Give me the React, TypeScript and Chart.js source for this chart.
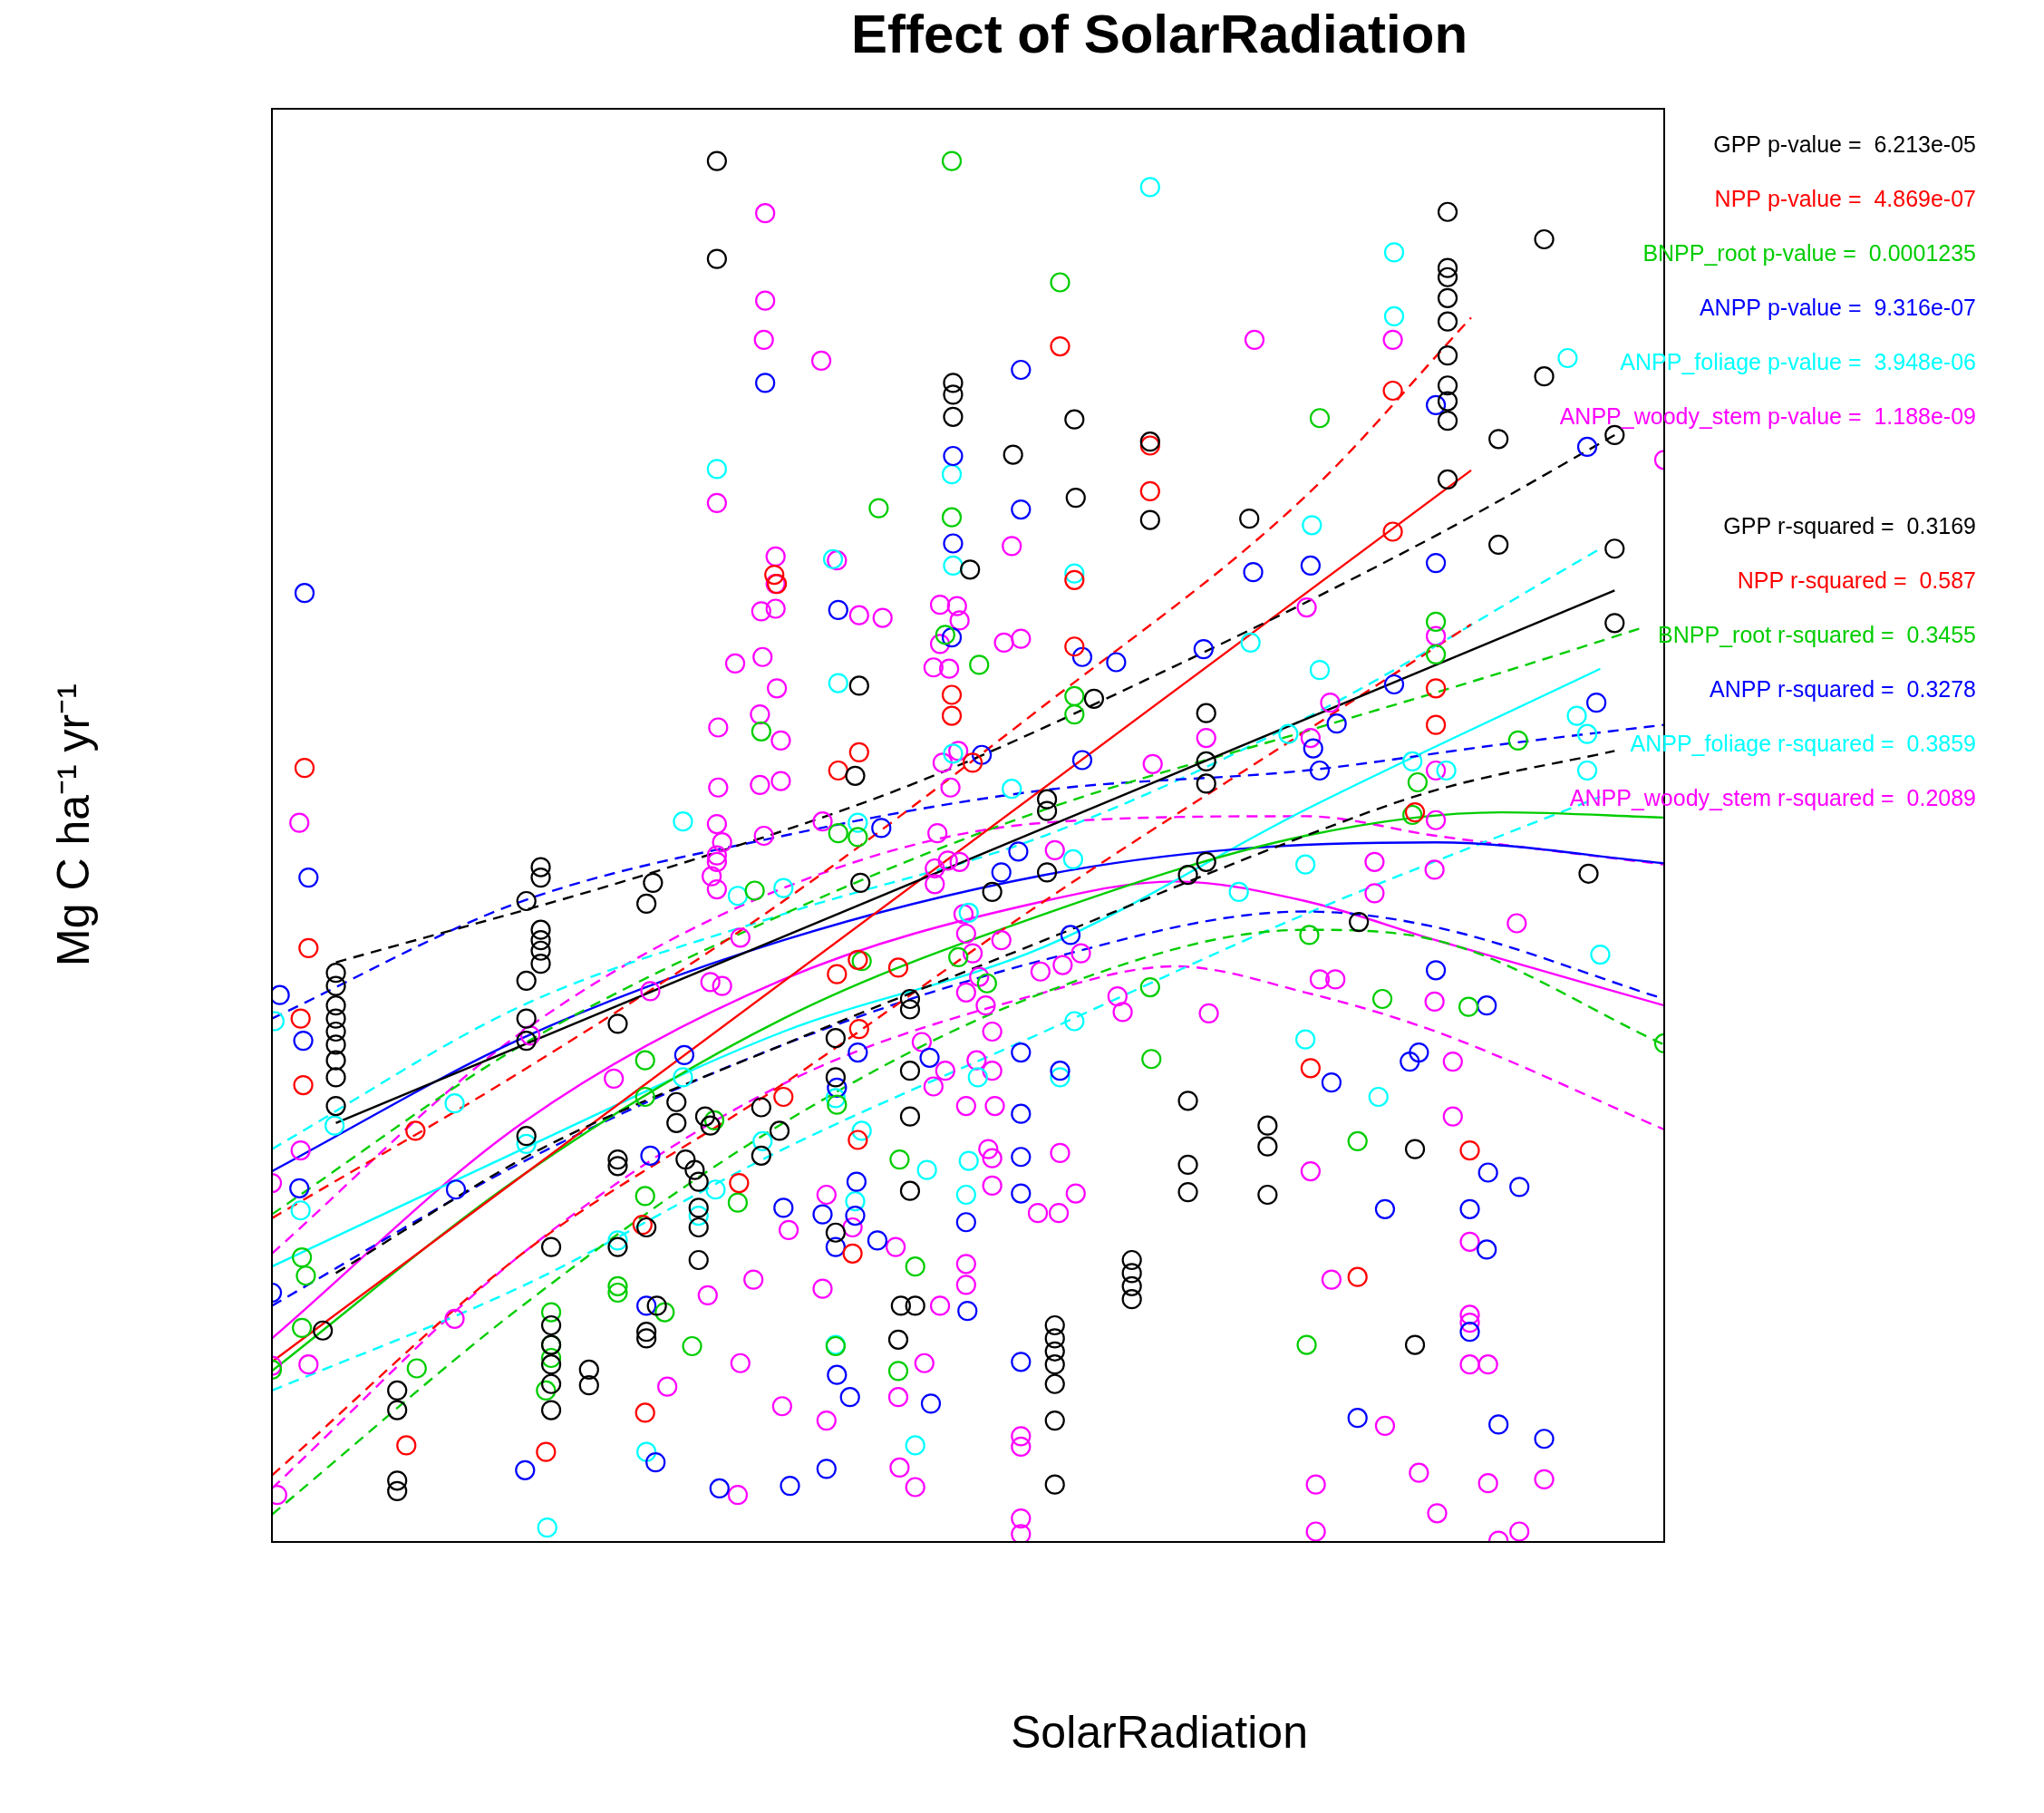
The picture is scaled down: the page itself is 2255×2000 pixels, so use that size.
import { useEffect, useRef } from "react";
import { Chart, registerables } from "chart.js";

Chart.register(...registerables);

// values in the plot's own (unlabelled) units; y axis runs top-down
type P = [number, number];

const gppPts: P[] = [[549,123],[549,198],[730,293],[730,302],[730,319],[776,348],[823,321],[824,381],[881,338],[881,398],[743,436],[957,397],[1109,162],[1109,205],[1109,212],[1109,228],[1109,246],[1109,272],[1109,295],[1109,307],[1109,322],[1109,367],[1183,183],[1183,288],[1148,336],[1148,417],[1237,333],[1237,420],[1237,477],[658,525],[838,535],[924,546],[924,583],[924,600],[924,660],[910,670],[1217,669],[1041,706],[655,594],[659,676],[802,612],[802,621],[802,668],[760,683],[257,745],[257,755],[257,770],[257,780],[257,790],[257,800],[257,812],[257,825],[257,847],[247,1019],[414,664],[414,672],[414,712],[414,720],[414,728],[414,738],[403,690],[403,751],[403,780],[403,797],[403,870],[422,955],[473,784],[495,692],[500,676],[518,844],[518,860],[525,888],[532,896],[535,905],[535,925],[535,940],[535,965],[540,855],[544,862],[473,888],[473,893],[473,955],[495,940],[495,1020],[495,1025],[503,1000],[583,848],[583,885],[597,866],[640,795],[640,825],[697,765],[697,773],[697,820],[697,855],[697,912],[701,1000],[690,1000],[688,1026],[640,944],[808,1015],[808,1025],[808,1035],[808,1045],[808,1060],[808,1088],[808,1137],[867,965],[867,975],[867,985],[867,995],[910,843],[910,892],[910,913],[971,862],[971,878],[971,915],[1084,880],[1084,1030],[304,1065],[304,1080],[304,1134],[304,1142],[451,1049],[451,1061],[422,1015],[422,1030],[422,1045],[422,1060],[422,1080]];
const nppPts: P[] = [[812,265],[881,341],[881,376],[823,444],[823,495],[658,576],[642,590],[1067,299],[1067,407],[1100,527],[1100,555],[1084,622],[233,588],[236,726],[230,780],[232,831],[318,866],[641,746],[657,735],[688,741],[729,532],[729,548],[745,584],[600,840],[566,906],[657,873],[653,960],[658,788],[492,938],[494,1082],[311,1107],[418,1112],[1004,818],[1040,978],[1126,881],[593,440],[595,447]];
const bnppPts: P[] = [[729,123],[812,216],[1011,320],[673,389],[729,396],[750,509],[823,533],[823,547],[882,811],[1100,476],[1100,501],[1086,599],[1082,624],[1163,567],[1125,771],[1275,799],[231,963],[234,977],[231,1017],[208,1049],[319,1048],[422,1005],[422,1030],[422,1040],[418,1065],[494,812],[494,840],[494,916],[473,985],[473,990],[509,1005],[530,1031],[547,858],[578,682],[583,560],[642,638],[657,641],[641,846],[689,888],[640,1031],[688,1050],[701,970],[565,921],[1001,1030],[1040,874],[1059,765],[1003,716],[724,486],[734,733],[756,753],[660,736],[881,756]];
const anppPts: P[] = [[586,293],[782,283],[782,390],[730,349],[730,416],[729,488],[642,467],[829,503],[855,507],[922,497],[960,438],[1004,433],[1100,310],[1100,431],[1216,342],[1068,524],[1024,554],[1011,590],[1006,573],[1139,770],[1100,743],[1080,813],[1087,806],[1020,829],[1061,926],[1140,898],[1164,909],[1126,926],[1139,957],[1126,1020],[1148,1091],[1183,1102],[1040,1086],[233,454],[236,672],[232,797],[214,762],[229,910],[349,911],[402,1126],[495,1000],[498,885],[524,808],[640,955],[630,930],[641,1053],[651,1070],[633,1125],[605,1138],[551,1140],[600,925],[641,833],[657,806],[675,634],[752,578],[712,810],[713,1075],[767,668],[780,652],[820,716],[829,582],[782,806],[812,820],[782,853],[782,886],[782,914],[740,936],[741,1004],[782,1043],[656,905],[655,931],[672,950],[502,1120],[208,990],[1223,538]];
const foliagePts: P[] = [[881,143],[1068,193],[1068,242],[1201,274],[549,359],[729,363],[730,433],[638,428],[642,523],[823,439],[958,492],[1005,402],[1011,513],[730,577],[775,604],[523,629],[210,782],[256,862],[230,927],[348,845],[403,876],[419,1170],[495,1112],[473,950],[523,825],[535,931],[548,911],[584,874],[565,686],[600,680],[657,630],[640,841],[660,866],[655,920],[710,896],[749,825],[742,889],[740,915],[812,825],[823,782],[822,658],[742,699],[1000,662],[1000,796],[1056,840],[1082,583],[1108,590],[1208,548],[1216,562],[1216,590],[1226,731],[949,683],[987,562],[701,1107],[640,1030]];
const woodyPts: P[] = [[586,163],[586,230],[585,260],[629,276],[961,260],[1067,260],[1275,352],[549,385],[594,426],[594,447],[594,466],[641,429],[583,468],[584,503],[563,508],[595,527],[582,547],[550,557],[598,567],[582,601],[598,598],[550,603],[585,640],[549,631],[549,655],[549,660],[549,681],[545,671],[630,629],[658,471],[676,473],[720,463],[720,493],[733,464],[735,475],[727,512],[769,492],[782,489],[775,418],[715,511],[734,575],[722,584],[718,638],[728,603],[726,659],[735,660],[738,700],[740,715],[745,730],[750,748],[740,760],[755,770],[760,790],[748,812],[760,820],[762,847],[757,880],[760,887],[760,908],[812,883],[795,929],[811,929],[824,914],[716,665],[716,677],[767,720],[797,744],[808,651],[814,739],[828,730],[856,763],[860,775],[883,585],[924,565],[926,776],[1001,465],[1004,565],[1019,538],[1011,750],[1023,750],[1053,660],[1053,684],[1100,487],[1100,590],[1100,628],[1099,666],[1162,707],[1099,767],[1113,813],[1113,855],[1126,951],[1126,1007],[1126,1013],[1126,1045],[1140,1045],[1087,1128],[1101,1159],[1140,1136],[1183,1133],[1164,1173],[1148,1180],[1061,1092],[1008,1137],[1008,1173],[1020,980],[1004,897],[208,906],[212,1145],[229,630],[230,881],[208,1046],[236,1045],[348,1010],[406,793],[470,826],[498,759],[511,1062],[542,992],[567,1044],[577,980],[599,1077],[604,942],[565,1145],[630,987],[633,915],[653,940],[686,955],[688,1070],[689,1124],[701,1139],[740,968],[740,984],[782,1163],[782,1175],[782,1100],[782,1108],[706,798],[715,832],[724,820],[740,847],[708,1044],[720,1000],[633,1088],[544,752],[553,755],[567,718],[553,645]];

// fitted curves: [fit, upper, lower]
const gppFit: P[][] = [
  [[257,860],[1237,452]],
  [[257,737],[500,668],[700,600],[900,510],[1100,410],[1237,333]],
  [[257,975],[414,880],[600,800],[800,720],[1000,640],[1100,605],[1237,575]],
];
const nppFit: P[][] = [
  [[208,1043],[1127,360]],
  [[208,933],[400,820],[600,690],[800,540],[1000,380],[1127,243]],
  [[208,1130],[400,960],[600,830],[800,690],[1000,560],[1127,478]],
];
const bnppFit: P[][] = [
  [[208,1050],[400,900],[600,780],[800,700],[1000,640],[1150,622],[1275,626]],
  [[208,930],[400,800],[600,700],[800,620],[1000,560],[1150,515],[1260,480]],
  [[208,1160],[400,1000],[600,860],[800,760],[1000,712],[1100,720],[1275,800]],
];
const anppFit: P[][] = [
  [[208,897],[400,795],[600,720],[800,670],[950,650],[1100,645],[1275,661]],
  [[208,780],[400,690],[600,640],[800,605],[1000,590],[1150,570],[1275,555]],
  [[208,1000],[400,890],[600,800],[800,735],[1000,698],[1100,710],[1275,765]],
];
const foliageFit: P[][] = [
  [[208,970],[400,880],[600,790],[800,725],[1000,620],[1226,512]],
  [[208,880],[400,770],[600,700],[800,640],[1000,550],[1226,420]],
  [[208,1065],[400,985],[600,880],[800,790],[1000,700],[1226,610]],
];
const woodyFit: P[][] = [
  [[208,1025],[400,860],[600,750],[800,690],[900,675],[1000,690],[1100,720],[1275,770]],
  [[208,960],[400,790],[600,680],[800,630],[1000,625],[1100,640],[1275,662]],
  [[208,1140],[400,960],[600,830],[800,760],[900,740],[1000,760],[1100,790],[1275,865]],
];

const seriesNames = ["GPP", "NPP", "BNPP_root", "ANPP", "ANPP_foliage", "ANPP_woody_stem"];
const seriesColors = ["#000000", "#FF0000", "#00CD00", "#0000FF", "#00FFFF", "#FF00FF"];
const pValues = ["6.213e-05", "4.869e-07", "0.0001235", "9.316e-07", "3.948e-06", "1.188e-09"];
const rSquared = ["0.3169", "0.587", "0.3455", "0.3278", "0.3859", "0.2089"];

const allPts = [gppPts, nppPts, bnppPts, anppPts, foliagePts, woodyPts];
const allFits = [gppFit, nppFit, bnppFit, anppFit, foliageFit, woodyFit];

const toXY = (p: P[]) => p.map(([x, y]) => ({ x, y }));

export default function App() {
  const canvasRef = useRef<HTMLCanvasElement>(null);
  const chartRef = useRef<Chart | null>(null);

  useEffect(() => {
    document.body.style.margin = "0";
    if (!canvasRef.current) return;
    if (chartRef.current) chartRef.current.destroy();

    const datasets: any[] = [];
    allPts.forEach((pts, i) => {
      datasets.push({
        type: "scatter",
        data: toXY(pts),
        borderColor: seriesColors[i],
        backgroundColor: "transparent",
        pointRadius: 10,
        pointBorderWidth: 2.2,
        showLine: false,
      });
    });
    allFits.forEach((fits, i) => {
      fits.forEach((line, j) => {
        datasets.push({
          type: "line",
          data: toXY(line),
          borderColor: seriesColors[i],
          borderWidth: 2.4,
          borderDash: j === 0 ? [] : [12, 8],
          pointRadius: 0,
          tension: 0.4,
          cubicInterpolationMode: "monotone",
          fill: false,
        });
      });
    });

    const annotate = {
      id: "annotate",
      afterDraw(chart: Chart) {
        const { ctx, chartArea: a } = chart;
        ctx.save();
        ctx.strokeStyle = "#000";
        ctx.lineWidth = 2;
        ctx.strokeRect(a.left, a.top, a.right - a.left, a.bottom - a.top);
        ctx.fillStyle = "#000";
        ctx.textAlign = "center";
        ctx.textBaseline = "middle";
        ctx.font = "bold 60px Arial, 'Liberation Sans', sans-serif";
        ctx.fillText("Effect of SolarRadiation", 1279, 41);
        ctx.font = "50px Arial, 'Liberation Sans', sans-serif";
        ctx.fillText("SolarRadiation", 1279, 1914);
        ctx.save();
        ctx.translate(84, 910);
        ctx.rotate(-Math.PI / 2);
        ctx.fillText("Mg C ha\u207B\u00B9 yr\u207B\u00B9", 0, 0);
        ctx.restore();
        ctx.textAlign = "right";
        ctx.font = "25px Arial, 'Liberation Sans', sans-serif";
        seriesNames.forEach((n, i) => {
          ctx.fillStyle = seriesColors[i];
          ctx.fillText(`${n} p-value =  ${pValues[i]}`, 2180, 161 + i * 60);
          ctx.fillText(`${n} r-squared =  ${rSquared[i]}`, 2180, 582 + i * 60);
        });
        ctx.restore();
      },
    };

    chartRef.current = new Chart(canvasRef.current, {
      type: "scatter",
      data: { datasets },
      options: {
        animation: false,
        responsive: false,
        layout: { padding: { left: 300, right: 419, top: 120, bottom: 299 } },
        plugins: { legend: { display: false }, tooltip: { enabled: false } },
        scales: {
          x: { type: "linear", min: 208, max: 1275, display: false },
          y: { type: "linear", min: 83, max: 1181, reverse: true, display: false },
        },
      },
      plugins: [annotate],
    });

    return () => {
      if (chartRef.current) chartRef.current.destroy();
    };
  }, []);

  return (
    <div style={{ width: 2255, height: 2000, background: "#fff" }}>
      <canvas ref={canvasRef} width={2255} height={2000}></canvas>
    </div>
  );
}
